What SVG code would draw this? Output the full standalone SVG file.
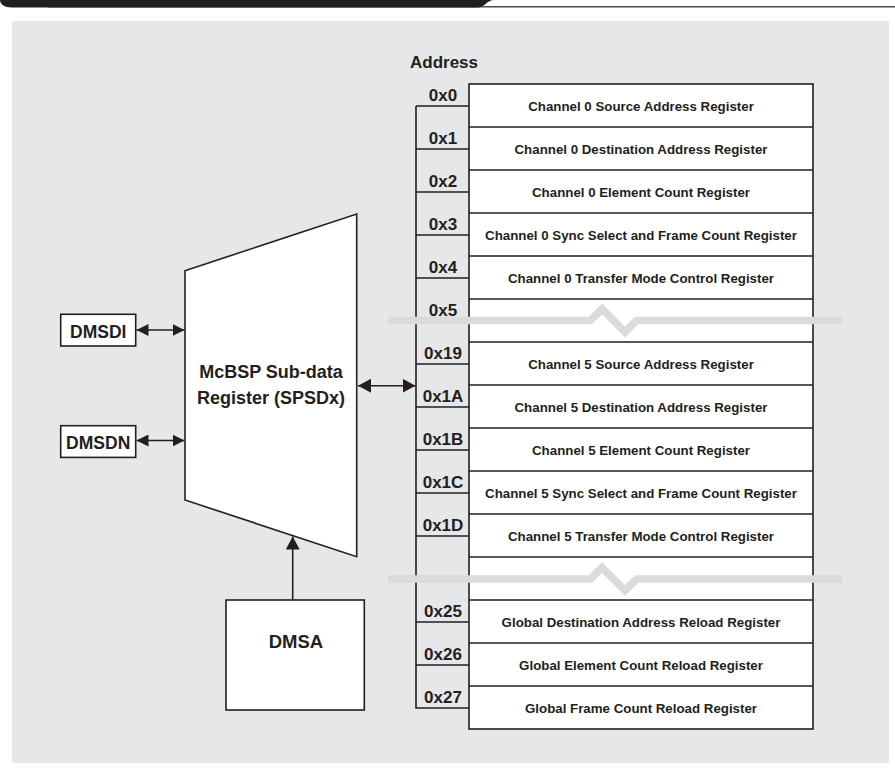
<svg xmlns="http://www.w3.org/2000/svg" width="895" height="773" viewBox="0 0 895 773">
<style>
.t{font-family:"Liberation Sans",Arial,sans-serif;font-weight:bold;fill:#231f20}
.lbl{font-size:17px;text-anchor:middle}
.reg{font-size:13.3px;text-anchor:middle}
.box{fill:#fff;stroke:#231f20;stroke-width:1.6}
.ln{stroke:#231f20;stroke-width:1.6;fill:none}
.band{stroke:#dadbdc;stroke-width:7.7;fill:none;stroke-linejoin:miter}
</style>
<defs>
<marker id="ah" markerUnits="userSpaceOnUse" markerWidth="12" markerHeight="12" refX="12" refY="6" orient="auto-start-reverse">
<path d="M0,0 L12,6 L0,12 z" fill="#231f20"/>
</marker>
<marker id="ahL" markerUnits="userSpaceOnUse" markerWidth="14" markerHeight="14" refX="13" refY="7" orient="auto-start-reverse">
<path d="M0,0 L13,7 L0,14 z" fill="#231f20"/>
</marker>
</defs>
<rect width="895" height="773" fill="#fff"/>
<g id="header">
<line x1="48" y1="6.8" x2="895" y2="6.8" stroke="#4a4a4a" stroke-width="1.6"/>
<path d="M0,0 H494 C487,0 485,7.5 477,7.5 H12 C4,7.5 0,4 0,0 Z" fill="#231f20"/>
</g>
<rect id="panel" x="12" y="21" width="877" height="742" fill="#e6e7e8"/>

<g id="address-title"><text class="t" x="410" y="68" font-size="17">Address</text></g>

<g id="register-map">
<rect class="box" x="469" y="84" width="344" height="645"/>
<path class="ln" d="M469,127H813M469,170H813M469,213H813M469,256H813M469,299H813M469,342H813M469,385H813M469,428H813M469,471H813M469,514H813M469,557H813M469,600H813M469,643H813M469,686H813"/>
<path class="ln" d="M416,106V708H469M416,106H469M416,149H469M416,192H469M416,235H469M416,278H469M416,321H469M416,364H469M416,407H469M416,450H469M416,493H469M416,536H469M416,579H469M416,622H469M416,665H469"/>
</g>

<g id="breaks">
<polyline class="band" points="388,320.5 590.5,320.5 602,309 625,332 636.5,320.5 842,320.5"/>
<polyline class="band" points="388,579 590.5,579 602,567.5 625,590.5 636.5,579 842,579"/>
</g>

<g id="address-labels" class="t lbl">
<text x="443" y="100.5">0x0</text>
<text x="443" y="143.5">0x1</text>
<text x="443" y="186.5">0x2</text>
<text x="443" y="229.5">0x3</text>
<text x="443" y="272.5">0x4</text>
<text x="443" y="315.5">0x5</text>
<text x="443" y="358.5">0x19</text>
<text x="443" y="401.5">0x1A</text>
<text x="443" y="444.5">0x1B</text>
<text x="443" y="487.5">0x1C</text>
<text x="443" y="530.5">0x1D</text>
<text x="443" y="616.5">0x25</text>
<text x="443" y="659.5">0x26</text>
<text x="443" y="702.5">0x27</text>
</g>

<g id="register-names" class="t reg">
<text x="641" y="110.5">Channel 0 Source Address Register</text>
<text x="641" y="153.5">Channel 0 Destination Address Register</text>
<text x="641" y="196.5">Channel 0 Element Count Register</text>
<text x="641" y="239.5">Channel 0 Sync Select and Frame Count Register</text>
<text x="641" y="282.5">Channel 0 Transfer Mode Control Register</text>
<text x="641" y="368.5">Channel 5 Source Address Register</text>
<text x="641" y="411.5">Channel 5 Destination Address Register</text>
<text x="641" y="454.5">Channel 5 Element Count Register</text>
<text x="641" y="497.5">Channel 5 Sync Select and Frame Count Register</text>
<text x="641" y="540.5">Channel 5 Transfer Mode Control Register</text>
<text x="641" y="626.5">Global Destination Address Reload Register</text>
<text x="641" y="669.5">Global Element Count Reload Register</text>
<text x="641" y="712.5">Global Frame Count Reload Register</text>
</g>

<g id="spsd">
<polygon class="box" points="185,270.7 356.7,214 356.7,556.7 185,500"/>
<text class="t" x="271" y="378.3" font-size="18" text-anchor="middle">McBSP Sub-data</text>
<text class="t" x="271" y="404" font-size="18" text-anchor="middle">Register (SPSDx)</text>
</g>

<g id="dmsdi">
<rect class="box" x="60.7" y="314.3" width="75" height="31.7"/>
<text class="t" x="98.2" y="337.7" font-size="17.5" text-anchor="middle">DMSDI</text>
</g>

<g id="dmsdn">
<rect class="box" x="60.7" y="425.7" width="75" height="31.7"/>
<text class="t" x="98.2" y="449" font-size="17.5" text-anchor="middle">DMSDN</text>
</g>

<g id="dmsa">
<rect class="box" x="226" y="600" width="138.3" height="110"/>
<text class="t" x="296" y="647.7" font-size="18.5" text-anchor="middle">DMSA</text>
</g>

<g id="connectors">
<line class="ln" x1="136.5" y1="330" x2="184.5" y2="330" marker-start="url(#ah)" marker-end="url(#ah)"/>
<line class="ln" x1="136.5" y1="440.5" x2="184.5" y2="440.5" marker-start="url(#ah)" marker-end="url(#ah)"/>
<line class="ln" x1="358" y1="385.7" x2="415.5" y2="385.7" marker-start="url(#ahL)" marker-end="url(#ahL)"/>
<line class="ln" x1="292.7" y1="600" x2="292.7" y2="536.5" marker-end="url(#ahL)"/>
</g>
</svg>
